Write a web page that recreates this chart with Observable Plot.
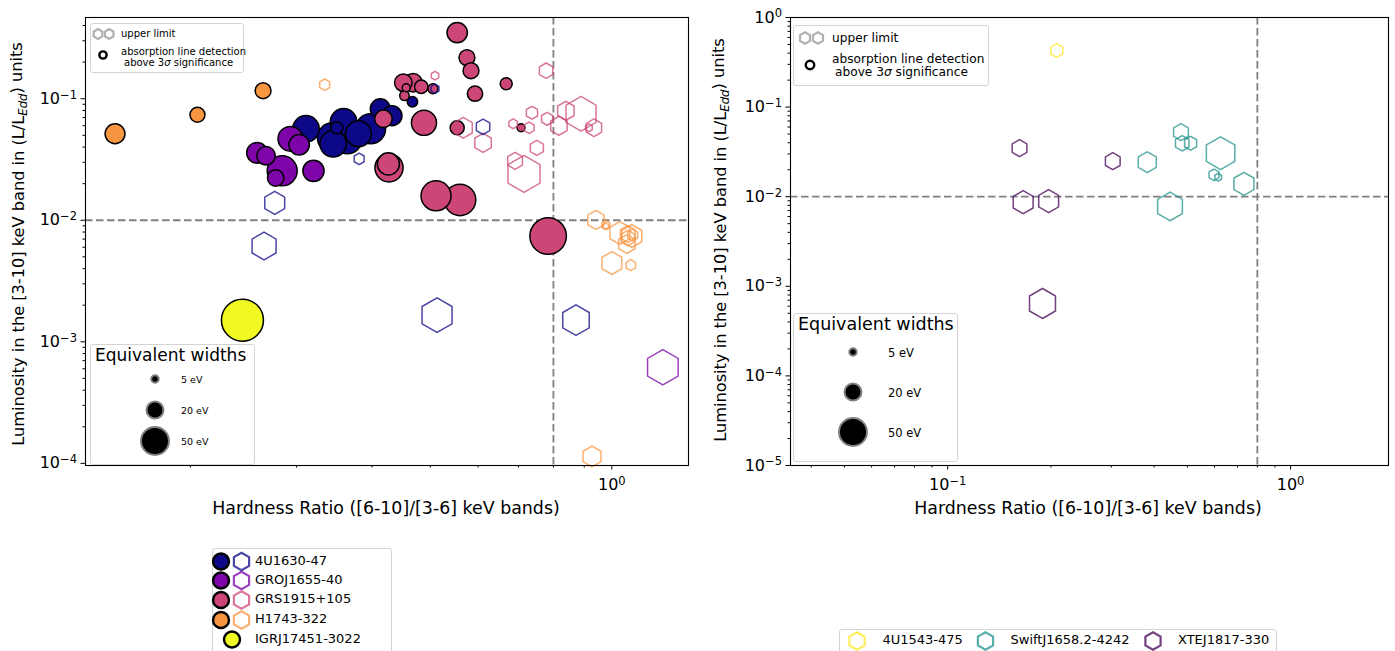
<!DOCTYPE html>
<html><head><meta charset="utf-8">
<script src="https://cdn.jsdelivr.net/npm/d3@7"></script>
<script src="https://cdn.jsdelivr.net/npm/@observablehq/plot@0.6"></script>
<style>
body{margin:0;background:#fff;font-family:"DejaVu Sans",sans-serif;}
#root{position:relative;width:1395px;height:651px;overflow:hidden;background:#fff;}
.abs{position:absolute;}
.box{position:absolute;background:rgba(255,255,255,0.85);border:1px solid #d4d4d4;border-radius:3px;box-sizing:border-box;}
.t{position:absolute;white-space:nowrap;color:#000;font-family:"DejaVu Sans",sans-serif;}
</style></head><body><div id="root"></div>
<script>
// ---------------- DATA: [hardness ratio, luminosity (L/LEdd), equivalent width eV] ----------------
const sourcesLeft = ["4U1630-47","GROJ1655-40","GRS1915+105","H1743-322","IGRJ17451-3022"];
const colorsLeft = ["#0d0887","#7e03a8","#cc4778","#f89540","#f0f921"];
const sourcesRight = ["4U1543-475","SwiftJ1658.2-4242","XTEJ1817-330"];
const colorsRight = ["#fde725","#21918c","#440154"];

const det4U1630 = [[0.311,0.0566,39],[0.359,0.0646,39],[0.350,0.0577,8],[0.344,0.0477,50],[0.345,0.0426,39],[0.364,0.0468,50],[0.380,0.0515,37],[0.398,0.0566,50],[0.413,0.0827,22],[0.432,0.0724,22],[0.467,0.0945,6]];
const detGROJ1655 = [[0.258,0.0359,24],[0.267,0.0339,19],[0.284,0.0255,50],[0.277,0.0223,15],[0.293,0.0468,34],[0.303,0.0418,23],[0.320,0.0255,25]];
const detGRS1915 = [[0.554,0.350,23],[0.575,0.218,14],[0.584,0.170,14],[0.593,0.110,13],[0.668,0.133,8],[0.707,0.0577,3.5],[0.554,0.0577,11],[0.488,0.0634,35],[0.511,0.0159,50],[0.560,0.0147,55],[0.784,0.00742,74],[0.427,0.0270,44],[0.426,0.0291,27],[0.418,0.0684,17],[0.451,0.1355,17],[0.468,0.1355,19],[0.483,0.1256,10],[0.456,0.1232,3.5],[0.453,0.1058,5],[0.505,0.1209,5.5]];
const detH1743 = [[0.150,0.0515,22],[0.2055,0.0738,12.5],[0.264,0.1164,14]];
const detIGRJ17451 = [[0.244,0.001507,98]];

const ul4U1630 = [[0.381,0.0320,5.5],[0.6115,0.0588,10],[0.509,0.1209,3.5],[0.276,0.01389,22],[0.265,0.00614,32],[0.513,0.001657,50],[0.872,0.001507,39]];
const ulGROJ1655 = [[1.215,0.000618,52]];
const ulGRS1915 = [[0.509,0.1548,3],[0.567,0.0577,18],[0.6115,0.0434,15],[0.686,0.0622,4],[0.729,0.0577,5.5],[0.737,0.0767,7],[0.751,0.0394,9.5],[0.691,0.0308,12],[0.715,0.0241,57],[0.778,0.170,10],[0.781,0.0684,7],[0.817,0.0599,15],[0.839,0.0796,15],[0.889,0.0752,50],[0.934,0.0577,13],[0.916,0.0577,2.5]];
const ulH1743 = [[0.334,0.1304,5.5],[0.941,0.01006,15],[0.977,0.00915,3.5],[0.977,0.00897,1.6],[1.031,0.00786,22],[1.063,0.00771,12],[1.079,0.00742,22],[1.063,0.00715,10],[1.059,0.00638,15],[1.083,0.00756,5.5],[1.0,0.00445,22],[1.075,0.00428,5],[0.927,0.000114,18]];

const ul4U1543 = [[0.208,0.428,8]];
const ulSwiftJ1658 = [[0.382,0.0243,18],[0.479,0.0525,12],[0.483,0.0395,10],[0.511,0.0395,8],[0.625,0.0306,45],[0.598,0.01756,5.5],[0.615,0.0165,2.5],[0.731,0.01393,22],[0.445,0.00778,34]];
const ulXTEJ1817 = [[0.162,0.0348,12],[0.303,0.0249,12],[0.166,0.00868,22],[0.197,0.00891,22],[0.189,0.000643,37.5]];

const ewLegend = [5, 20, 50];
const hrThreshold = 0.8, lumThreshold = 0.01;

// ---------------- build tables ----------------
const rows = (arr, src, color) => arr.map(([hr,lum,ew]) => ({src, color, hr, lum, ew}));
const detLeft = [].concat(
  rows(det4U1630, sourcesLeft[0], colorsLeft[0]),
  rows(detGROJ1655, sourcesLeft[1], colorsLeft[1]),
  rows(detGRS1915, sourcesLeft[2], colorsLeft[2]),
  rows(detH1743, sourcesLeft[3], colorsLeft[3]),
  rows(detIGRJ17451, sourcesLeft[4], colorsLeft[4]));
const ulLeft = [].concat(
  rows(ul4U1630, sourcesLeft[0], colorsLeft[0]),
  rows(ulGROJ1655, sourcesLeft[1], colorsLeft[1]),
  rows(ulGRS1915, sourcesLeft[2], colorsLeft[2]),
  rows(ulH1743, sourcesLeft[3], colorsLeft[3]));
const ulRight = [].concat(
  rows(ul4U1543, sourcesRight[0], colorsRight[0]),
  rows(ulSwiftJ1658, sourcesRight[1], colorsRight[1]),
  rows(ulXTEJ1817, sourcesRight[2], colorsRight[2]));

const rScale = {type:"sqrt", domain:[0,50], range:[0,15]};
const rFn = d3.scaleSqrt().domain(rScale.domain).range(rScale.range);

function minors(lo, hi){
  const out=[];
  for(let k=Math.floor(Math.log10(lo));k<=Math.ceil(Math.log10(hi));k++)
    for(let m=2;m<=9;m++){const v=m*Math.pow(10,k); if(v>=lo&&v<=hi) out.push(v);}
  return out;
}
function majors(lo, hi){
  const out=[];
  for(let k=Math.ceil(Math.log10(lo)-1e-9);k<=Math.floor(Math.log10(hi)+1e-9);k++) out.push(Math.pow(10,k));
  return out;
}
const fmt = d => "10^" + Math.round(Math.log10(d));
const dash = {stroke:"#808080", strokeWidth:1.8, strokeDasharray:"7.5,3.5"};

function makePlot(cfg){
  const {xdom, ydom, det, ul, ml, mr, width} = cfg;
  const marks = [
    Plot.ruleX([hrThreshold], dash),
    Plot.ruleY([lumThreshold], dash),
  ];
  if(det) marks.push(Plot.dot(det, {x:"hr", y:"lum", r:"ew", fill:"color", stroke:"#000", strokeWidth:1.5}));
  if(ul) marks.push(Plot.dot(ul, {x:"hr", y:"lum", r:"ew", symbol:"hexagon", fill:"none", stroke:"color", strokeWidth:1.5, strokeOpacity:0.75}));
  marks.push(
    Plot.axisX({ticks:majors(...xdom), tickFormat:fmt, tickSize:4.5, tickPadding:9, label:null, fontSize:16}),
    Plot.axisX({ticks:minors(...xdom), tickFormat:()=>"", tickSize:2.5, label:null}),
    Plot.axisY({ticks:majors(...ydom), tickFormat:fmt, tickSize:4.5, tickPadding:4, label:null, fontSize:16}),
    Plot.axisY({ticks:minors(...ydom), tickFormat:()=>"", tickSize:2.5, label:null}),
    Plot.frame({stroke:"#000", strokeWidth:1.1})
  );
  return Plot.plot({
    width, height:530, marginLeft:ml, marginRight:mr, marginTop:17, marginBottom:65,
    style:{fontFamily:"DejaVu Sans, sans-serif", fontSize:"16px", background:"transparent", color:"#000", overflow:"visible"},
    x:{type:"log", domain:xdom},
    y:{type:"log", domain:ydom},
    r:rScale,
    color:{type:"identity"},
    marks
  });
}

function supify(svg){
  d3.select(svg).selectAll('g[aria-label$="tick label"] text').each(function(){
    const t=this.textContent; if(!t.startsWith("10^")) return;
    const e=t.slice(3).replace("-","\u2212");
    const s=d3.select(this); s.text("");
    s.append("tspan").text("10");
    s.append("tspan").attr("dy","-0.45em").attr("font-size","0.72em").text(e);
  });
}
function addLabels(svg, ycx, ycy, xcx, xcy){
  const g=d3.select(svg).append("g").attr("font-family","DejaVu Sans, sans-serif").attr("fill","#000");
  const yl=g.append("text").attr("font-size",16.2).attr("text-anchor","middle").attr("transform",`translate(${ycx},${ycy}) rotate(-90)`).attr("dy","0.35em");
  yl.append("tspan").text("Luminosity in the [3-10] keV band in (L/L");
  yl.append("tspan").attr("font-size","0.72em").attr("font-style","italic").attr("dy","0.3em").text("Edd");
  yl.append("tspan").attr("dy","-0.3em").text(") units");
  g.append("text").attr("font-size",17.4).attr("text-anchor","middle").attr("x",xcx).attr("y",xcy).attr("dy","0.35em").text("Hardness Ratio ([6-10]/[3-6] keV bands)");
}

const root = document.getElementById("root");
const left = makePlot({xdom:[0.134,1.34], ydom:[9.6e-5,0.466], det:detLeft, ul:ulLeft, ml:85, mr:12, width:700});
supify(left); addLabels(left, 18, 244, 386, 508);
left.style.position="absolute"; left.style.left="0px"; left.style.top="0px";
root.appendChild(left);

const right = makePlot({xdom:[0.0348,1.93], ydom:[1e-5,1], det:null, ul:ulRight, ml:90, mr:7, width:695});
supify(right); addLabels(right, 20, 240, 388, 508);
right.style.position="absolute"; right.style.left="700px"; right.style.top="0px";
root.appendChild(right);

// ---------------- legends ----------------
const SQ3 = Math.sqrt(3);
function hexPath(r){const R=r*2/SQ3;return `M0,${-R}L${r},${-R/2}L${r},${R/2}L0,${R}L${-r},${R/2}L${-r},${-R/2}Z`;}
function svgEl(x,y,w,h,inner){
  const d=document.createElement("div");d.className="abs";d.style.left=x+"px";d.style.top=y+"px";
  d.innerHTML=`<svg width="${w}" height="${h}" style="overflow:visible;display:block">${inner}</svg>`;
  root.appendChild(d);
}
function box(x,y,w,h){const d=document.createElement("div");d.className="box";Object.assign(d.style,{left:x+"px",top:y+"px",width:w+"px",height:h+"px"});root.appendChild(d);}
function text(x,y,s,size,extra){const d=document.createElement("div");d.className="t";Object.assign(d.style,{left:x+"px",top:y+"px",fontSize:size+"px",lineHeight:"1.1"},extra||{});d.innerHTML=s;root.appendChild(d);}

// upper limit legends
function ulLegend(x,y,w,h,fs,hx,hy,hr,cx,cy,tx,t1y,t2y,t3y){
  box(x,y,w,h);
  svgEl(0,0,1,1,`<path transform="translate(${hx},${hy})" d="${hexPath(hr)}" fill="none" stroke="#b0b0b0" stroke-width="2.2"/>
    <path transform="translate(${hx+hr*2.6},${hy})" d="${hexPath(hr)}" fill="none" stroke="#b0b0b0" stroke-width="2.2"/>
    <circle cx="${cx}" cy="${cy}" r="${hr*0.85}" fill="none" stroke="#000" stroke-width="2.4"/>`);
  text(tx,t1y,"upper limit",fs);
  text(tx,t2y,"absorption line detection",fs);
  text(tx+3,t3y,"above 3<i>σ</i> significance",fs);
}
ulLegend(90,23,154,50,10,98,34,4.3,103,55,121,28,46,57);
ulLegend(793,25,196,61,12.2,805,38,5,810,65,832,32,53,66);

// equivalent width legends
function ewLeg(x,y,w,h,titleFs,cx,cys,lx,lfs){
  box(x,y,w,h);
  text(x+5,y+2,"Equivalent widths",titleFs);
  let inner="";
  ewLegend.forEach((ew,i)=>{inner+=`<circle cx="${cx}" cy="${cys[i]}" r="${rFn(ew)-1}" fill="#000" stroke="#808080" stroke-width="2"/>`;
    text(lx,cys[i]-lfs*0.45,ew+" eV",lfs);});
  svgEl(0,0,1,1,inner);
}
ewLeg(90,344,165,121,17,155,[379,410,441],181,9.5);
ewLeg(793,313,165,149,17.5,853,[352,392,432],888,11.5);

// bottom-left source legend
box(212,548,180,120);
(function(){
  const ys=[561.5,580.5,600,620,639.5];
  let inner="";
  sourcesLeft.forEach((s,i)=>{
    if(i<4){
      inner+=`<circle cx="221" cy="${ys[i]}" r="8" fill="${colorsLeft[i]}" stroke="#000" stroke-width="2.4"/>`;
      inner+=`<path transform="translate(241.5,${ys[i]})" d="${hexPath(7.6)}" fill="none" stroke="${colorsLeft[i]}" stroke-opacity="0.75" stroke-width="2.2"/>`;
    } else {
      inner+=`<circle cx="232" cy="${ys[i]}" r="8" fill="${colorsLeft[i]}" stroke="#000" stroke-width="2.4"/>`;
    }
    text(255,ys[i]-8,s,13);
  });
  svgEl(0,0,1,1,inner);
})();

// bottom-right source legend
box(839,629,438,40);
(function(){
  const hx=[857,985.5,1153], tx=[882.5,1010.5,1178];
  let inner="";
  sourcesRight.forEach((s,i)=>{
    inner+=`<path transform="translate(${hx[i]},641)" d="${hexPath(7.6)}" fill="none" stroke="${colorsRight[i]}" stroke-opacity="0.75" stroke-width="2.2"/>`;
    text(tx[i],633,s,13);
  });
  svgEl(0,0,1,1,inner);
})();
</script></body></html>
